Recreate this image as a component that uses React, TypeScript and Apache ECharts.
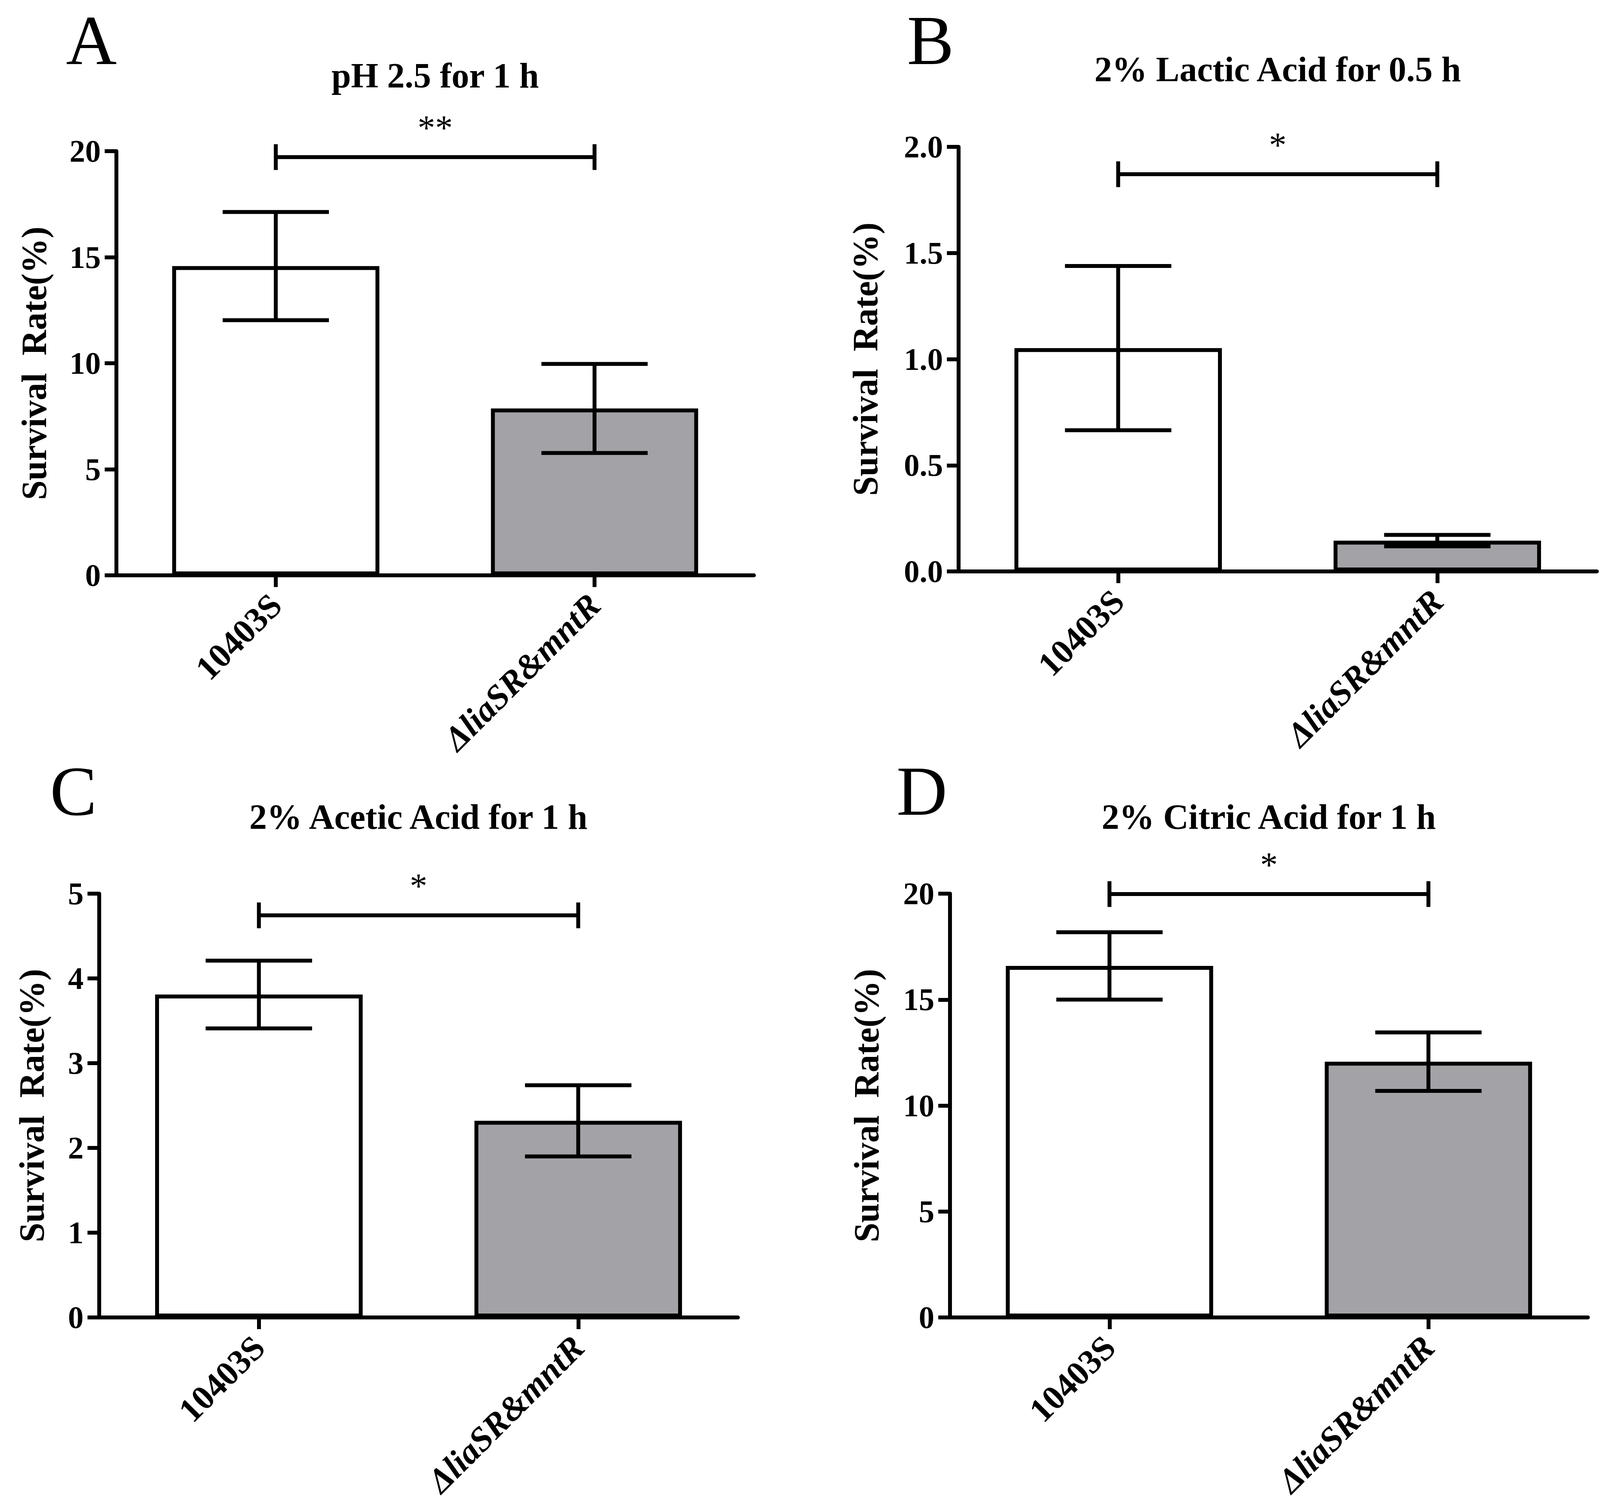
import React, { useEffect, useRef } from "react";
import * as echarts from "echarts";

// ---------- data ----------
const categories = ["10403S", "ΔliaSR&mntR"];
const italicCategory = [false, true];
const barFills = ["#FFFFFF", "#A3A2A7"];

const panelLetters = ["A", "B", "C", "D"];
const panelTitles = [
  "pH 2.5 for 1 h",
  "2% Lactic Acid for 0.5 h",
  "2% Acetic Acid for 1 h",
  "2% Citric Acid for 1 h",
];

const meansA = [14.58, 7.87];
const errA = [2.55, 2.1];
const meansB = [1.052, 0.145];
const errB = [0.387, 0.027];
const meansC = [3.81, 2.32];
const errC = [0.4, 0.42];
const meansD = [16.59, 12.07];
const errD = [1.59, 1.38];

const yMax = [20, 2.0, 5, 20];
const yInterval = [5, 0.5, 1, 5];
const yDecimals = [0, 1, 0, 0];

const bracketY = [19.72, 1.871, 4.744, 19.98];
const bracketLabel = ["**", "*", "*", "*"];
const bracketFrom = [0, 0, 0, 0];
const bracketTo = [1, 1, 1, 1];

const yAxisName = "Survival  Rate(%)";

// ---------- layout ----------
const FONT = "'Liberation Serif', 'Times New Roman', Times, serif";
const grids = [
  { left: 298, top: 387, width: 1632, height: 1086 },
  { left: 2454, top: 376, width: 1634, height: 1087 },
  { left: 254, top: 2288, width: 1635, height: 1085 },
  { left: 2432, top: 2288, width: 1633, height: 1085 },
];
const nameGaps = [166, 194, 128, 169];
const titlePos = [
  [1114, 193],
  [3271, 177],
  [1071, 2091],
  [3248, 2091],
];
const letterPos = [
  [169, 103],
  [2322, 103],
  [128, 2025],
  [2295, 2025],
];

const LW = 10;

function buildOption() {
  const means = [meansA, meansB, meansC, meansD];
  const errs = [errA, errB, errC, errD];

  const xAxis = grids.map((_, i) => ({
    type: "category",
    gridIndex: i,
    data: categories,
    axisLine: { show: true, lineStyle: { color: "#000", width: LW } },
    axisTick: {
      show: true,
      alignWithLabel: true,
      length: 30,
      lineStyle: { color: "#000", width: LW },
    },
    axisLabel: {
      interval: 0,
      rotate: 45,
      margin: 62,
      formatter: (v: string, idx: number) =>
        italicCategory[idx] ? `{i|${v}}` : `{n|${v}}`,
      rich: {
        n: {
          fontFamily: FONT,
          fontSize: 88,
          fontWeight: "bold",
          fontStyle: "normal",
          color: "#000",
        },
        i: {
          fontFamily: FONT,
          fontSize: 88,
          fontWeight: "bold",
          fontStyle: "italic",
          color: "#000",
        },
      },
    },
    splitLine: { show: false },
  }));

  const yAxis = grids.map((_, i) => ({
    type: "value",
    gridIndex: i,
    min: 0,
    max: yMax[i],
    interval: yInterval[i],
    axisLine: { show: true, lineStyle: { color: "#000", width: LW } },
    axisTick: { show: true, length: 30, lineStyle: { color: "#000", width: LW } },
    splitLine: { show: false },
    axisLabel: {
      margin: 40,
      fontFamily: FONT,
      fontSize: 80,
      fontWeight: "bold",
      color: "#000",
      formatter: (v: number) => v.toFixed(yDecimals[i]),
    },
    name: yAxisName,
    nameLocation: "middle",
    nameGap: nameGaps[i],
    nameTextStyle: {
      fontFamily: FONT,
      fontSize: 90,
      fontWeight: "bold",
      color: "#000",
    },
  }));

  const series: any[] = [];
  grids.forEach((_, i) => {
    series.push({
      type: "bar",
      xAxisIndex: i,
      yAxisIndex: i,
      barWidth: "65%",
      itemStyle: { borderColor: "#000", borderWidth: LW },
      data: means[i].map((m, j) => ({
        value: m,
        itemStyle: { color: barFills[j], borderColor: "#000", borderWidth: LW },
      })),
      z: 2,
    });
    series.push({
      type: "custom",
      xAxisIndex: i,
      yAxisIndex: i,
      z: 3,
      encode: { x: 0, y: 1 },
      data: means[i].map((m, j) => [j, m, errs[i][j]]),
      renderItem: (params: any, api: any) => {
        const x = api.value(0);
        const m = api.value(1);
        const e = api.value(2);
        const top = api.coord([x, m + e]);
        const bot = api.coord([x, m - e]);
        const band = api.size([1, 0])[0];
        const hw = band / 6;
        const style = { stroke: "#000", lineWidth: LW, fill: null };
        return {
          type: "group",
          children: [
            { type: "line", shape: { x1: top[0], y1: top[1], x2: bot[0], y2: bot[1] }, style },
            { type: "line", shape: { x1: top[0] - hw, y1: top[1], x2: top[0] + hw, y2: top[1] }, style },
            { type: "line", shape: { x1: bot[0] - hw, y1: bot[1], x2: bot[0] + hw, y2: bot[1] }, style },
          ],
        };
      },
    });
    series.push({
      type: "custom",
      xAxisIndex: i,
      yAxisIndex: i,
      z: 3,
      clip: false,
      encode: { x: 0, y: 1 },
      data: [[bracketFrom[i], bracketY[i], bracketTo[i]]],
      renderItem: (params: any, api: any) => {
        const y = api.value(1);
        const p0 = api.coord([api.value(0), y]);
        const p1 = api.coord([api.value(2), y]);
        const style = { stroke: "#000", lineWidth: LW, fill: null };
        const h = 33;
        return {
          type: "group",
          children: [
            { type: "line", shape: { x1: p0[0], y1: p0[1], x2: p1[0], y2: p1[1] }, style },
            { type: "line", shape: { x1: p0[0], y1: p0[1] - h, x2: p0[0], y2: p0[1] + h }, style },
            { type: "line", shape: { x1: p1[0], y1: p1[1] - h, x2: p1[0], y2: p1[1] + h }, style },
            {
              type: "text",
              x: (p0[0] + p1[0]) / 2,
              y: p0[1] - 75,
              style: {
                text: bracketLabel[i],
                fontFamily: FONT,
                fontSize: 90,
                fill: "#000",
                align: "center",
                verticalAlign: "middle",
              },
            },
          ],
        };
      },
    });
  });

  const graphic: any[] = [];
  panelTitles.forEach((t, i) => {
    graphic.push({
      type: "text",
      x: titlePos[i][0],
      y: titlePos[i][1],
      style: {
        text: t,
        fontFamily: FONT,
        fontSize: 90,
        fontWeight: "bold",
        fill: "#000",
        align: "center",
        verticalAlign: "middle",
      },
    });
    graphic.push({
      type: "text",
      x: letterPos[i][0],
      y: letterPos[i][1],
      style: {
        text: panelLetters[i],
        fontFamily: FONT,
        fontSize: 180,
        fontWeight: "normal",
        fill: "#000",
        align: "left",
        verticalAlign: "middle",
      },
    });
  });

  return {
    animation: false,
    backgroundColor: "#FFFFFF",
    grid: grids.map((g) => ({ ...g, containLabel: false })),
    xAxis,
    yAxis,
    series,
    graphic,
  };
}

export default function App() {
  const ref = useRef<HTMLDivElement>(null);
  useEffect(() => {
    document.body.style.margin = "0";
    if (!ref.current) return;
    const chart = echarts.init(ref.current, undefined, { renderer: "svg" });
    chart.setOption(buildOption() as any);
    return () => chart.dispose();
  }, []);
  return <div ref={ref} style={{ width: 4129, height: 3866 }} />;
}
